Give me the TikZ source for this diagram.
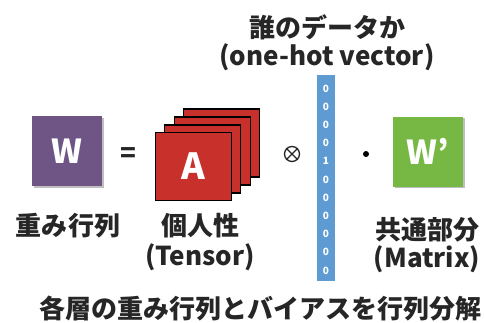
\documentclass[tikz,border=0pt]{standalone}
\usepackage{fontspec}
\setmainfont{Noto Sans CJK JP}
\begin{document}
\begin{tikzpicture}[x=1pt,y=-1pt,
  lbl/.style={font=\bfseries\fontsize{26}{28}\selectfont, text=black!85, inner sep=0pt},
  sq/.style={minimum width=70pt, minimum height=70pt, inner sep=0pt, font=\bfseries\fontsize{33}{33}\selectfont, text=white},
  layer/.style={draw=black, line width=1.2pt, fill=redA, minimum width=76pt, minimum height=68pt, inner sep=0pt},
  shadow/.style={fill=black!25, minimum width=70pt, minimum height=70pt, inner sep=0pt},
  digit/.style={font=\bfseries\fontsize{10}{10}\selectfont, text=white, inner sep=0pt}]
\definecolor{purpleW}{HTML}{6F5586}
\definecolor{redA}{HTML}{C8302B}
\definecolor{greenW}{HTML}{76B843}
\definecolor{blueV}{HTML}{5E9BD3}
\useasboundingbox (0,0) rectangle (484,322);
\fill[white] (0,0) rectangle (484,322);
% W box
\node[shadow] (wsh) at (68.5,152.5) {};
\node[sq, fill=purpleW] (w) at (67,151) {W};
\node[lbl] (eq) at (128,155) {=};
% stacked tensor
\node[layer] (l3) at (221.5,143) {};
\node[layer] (l2) at (212.5,151) {};
\node[layer] (l1) at (202.5,159) {};
\node[layer, font=\bfseries\fontsize{36}{36}\selectfont, text=white] (a) at (193.5,166.5) {A};
% otimes
\node[circle, draw=black!85, line width=1.3pt, minimum size=15pt, inner sep=0pt] (ot) at (292,154) {};
\draw[black!85, line width=1.2pt] (ot.north west) -- (ot.south east) (ot.north east) -- (ot.south west);
% vector
\node[fill=blueV, minimum width=18pt, minimum height=206pt, inner sep=0pt] (vec) at (326,178) {};
\foreach \d [count=\i from 0] in {0,0,0,0,1,0,0,0,0,0,0}
  \node[digit] (d\i) at (326,88.5+18.2*\i) {\d};
\node[circle, fill=black, minimum size=6pt, inner sep=0pt] (dot) at (366,154) {};
% W' box
\node[shadow] (gsh) at (429.5,153) {};
\node[sq, fill=greenW] (g) at (428,151.5) {W’};
% labels
\node[lbl] (t1) at (68,226) {重み行列};
\node[lbl] (t2) at (200,226) {個人性};
\node[lbl] (t3) at (200,257) {(Tensor)};
\node[lbl] (t4) at (427,230) {共通部分};
\node[lbl] (t5) at (427,259) {(Matrix)};
\node[lbl] (t6) at (327,27) {誰のデータか};
\node[lbl] (t7) at (327,57) {(one-hot vector)};
\node[lbl] (t8) at (260,309) {各層の重み行列とバイアスを行列分解};
\end{tikzpicture}
\end{document}
